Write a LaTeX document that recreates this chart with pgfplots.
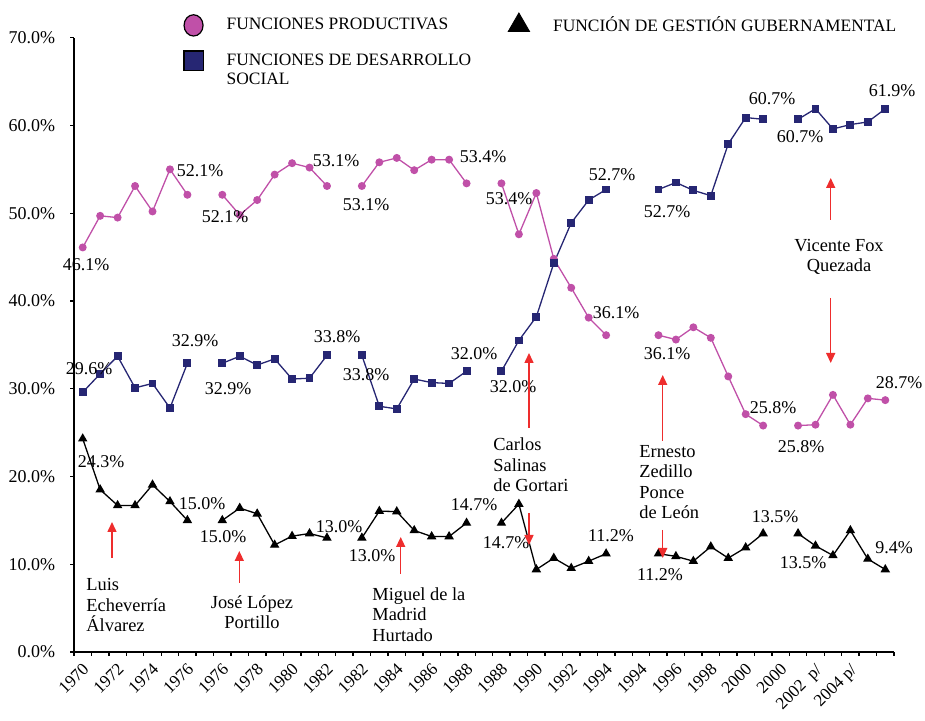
\documentclass[border=0pt]{standalone}
\usepackage{fontspec}
\setmainfont{Liberation Serif}
\usepackage{pgfplots}
\usepackage{pgfplotstable}
\pgfplotsset{compat=1.18}
\usetikzlibrary{arrows.meta}
\definecolor{pinkc}{RGB}{192,80,168}
\definecolor{navyc}{RGB}{38,38,115}
\definecolor{arrowc}{RGB}{238,45,45}

\pgfplotstableread{
i p s g
0 46.1 29.6 24.3
1 49.7 31.7 18.5
2 49.5 33.7 16.7
3 53.1 30.1 16.7
4 50.2 30.6 19.05
5 55.0 27.8 17.15
6 52.1 32.9 15.0
7 nan nan nan
8 52.1 32.9 15.0
9 49.8 33.7 16.4
10 51.5 32.7 15.75
11 54.4 33.4 12.2
12 55.7 31.1 13.2
13 55.2 31.2 13.5
14 53.1 33.8 13.0
15 nan nan nan
16 53.1 33.8 13.0
17 55.8 28.0 16.05
18 56.3 27.7 16.0
19 54.9 31.1 13.85
20 56.1 30.7 13.16
21 56.1 30.6 13.16
22 53.4 32.0 14.7
23 nan nan nan
24 53.4 32.0 14.7
25 47.6 35.5 16.85
26 52.3 38.2 9.4
27 44.8 44.3 10.7
28 41.5 48.9 9.55
29 38.1 51.5 10.35
30 36.1 52.7 11.2
31 nan nan nan
32 nan nan nan
33 36.1 52.7 11.2
34 35.6 53.5 10.9
35 37.0 52.6 10.35
36 35.8 52.0 12.0
37 31.4 57.9 10.7
38 27.1 60.9 11.9
39 25.8 60.7 13.5
40 nan nan nan
41 25.8 60.7 13.5
42 25.9 61.9 12.1
43 29.3 59.6 11.0
44 25.9 60.1 13.85
45 28.9 60.4 10.6
46 28.7 61.9 9.4
}\datatable

\begin{document}
\begin{tikzpicture}
\path[use as bounding box] (0,0) rectangle (462.5pt,360.5pt);
\begin{axis}[
  at={(37pt,34.5pt)}, anchor=south west,
  scale only axis, width=410pt, height=307.15pt,
  xmin=-0.5, xmax=46.5, ymin=0, ymax=70,
  axis x line*=bottom, axis y line*=left,
  axis line style={black, line width=0.8pt},
  unbounded coords=jump,
  tick align=outside,
  major tick length=2pt, minor tick length=2pt,
  tick style={black, line width=0.7pt},
  xtick={0,2,...,44},
  xticklabels={1970,1972,1974,1976,1976,1978,1980,1982,1982,1984,1986,1988,1988,1990,1992,1994,1994,1996,1998,2000,2000,2002\ \ p/,2004 p/},
  major x tick style={draw=none},
  minor xtick={-0.5,0.5,...,46.5},
  xticklabel style={font=\fontsize{8.6}{10}\selectfont, inner sep=0pt, yshift=-3pt, xshift=-0.5pt, rotate=45, anchor=north east},
  ytick={0,10,...,70},
  yticklabel={\pgfmathprintnumber[fixed,fixed zerofill,precision=1,assume math mode=true]{\tick}\%},
  yticklabel style={font=\fontsize{9}{10}\selectfont, anchor=east, inner sep=0pt, xshift=-7.2pt},
  legend style={draw=none, fill=none, inner sep=0pt, outer sep=0pt,
    at={(axis description cs:0.1341,1.0402)}, anchor=north west,
    font=\fontsize{8.7}{9.5}\selectfont, column sep=11.75pt, row sep=7.5pt,
    nodes={inner sep=0pt}},
  legend columns=2,
  legend cell align=left,
  legend image code/.code={\draw[#1] plot coordinates {(0pt,0pt)};},
  clip=false,
]
\addlegendimage{only marks, mark=*, mark size=4.75pt, mark options={yscale=1.12, fill=pinkc, draw=black, line width=0.6pt}}
\addlegendentry{\makebox[129pt][l]{FUNCIONES PRODUCTIVAS}}
\addlegendimage{only marks, mark=triangle*, mark size=6.2pt, mark options={fill=black, draw=black}}
\addlegendentry{FUNCIÓN DE GESTIÓN GUBERNAMENTAL}
\addlegendimage{only marks, mark=square*, mark size=4.8pt, mark options={fill=navyc, draw=black, line width=0.6pt}}
\addlegendentry{\makebox[129pt][l]{\begin{tabular}[t]{@{}l@{}}FUNCIONES DE DESARROLLO\\SOCIAL\end{tabular}}}

\addplot[pinkc, line width=0.65pt, mark=*, mark size=1.65pt, mark options={fill=pinkc, draw=pinkc}, forget plot] table[x=i,y=p]{\datatable};
\addplot[navyc, line width=0.65pt, mark=square*, mark size=1.65pt, mark options={fill=navyc, draw=navyc}, forget plot] table[x=i,y=s]{\datatable};
\addplot[black, line width=0.65pt, mark=triangle*, mark size=2.1pt, mark options={fill=black, draw=black}, forget plot] table[x=i,y=g]{\datatable};
\end{axis}

\begin{scope}[x=0.5pt, y=-0.5pt, yshift=360.5pt]
\foreach \t/\x/\y in {46.1/86/265, 52.1/200/171, 52.1/225/217, 53.1/336/161, 53.1/366/205, 53.4/483/157, 53.4/509/199, 52.7/612/175, 52.7/667/212, 60.7/772/99, 60.7/800/137, 61.9/892/91,
 29.6/89/369, 32.9/195/341, 32.9/228/389, 33.8/337/337, 33.8/366/375, 32.0/474/354, 32.0/513/387, 36.1/616/313, 36.1/667/354, 25.8/773/408, 25.8/801/447, 28.7/899/383,
 24.3/101/462, 15.0/202/504, 15.0/223/537, 13.0/339/527, 13.0/372/556, 14.7/474/505, 14.7/506/543, 11.2/611/536, 11.2/660/575, 13.5/775/517, 13.5/803/563, 9.4/894/548}
  \node[anchor=center, inner sep=0pt, font=\fontsize{9}{10}\selectfont] at (\x,\y) {\t\%};

\tikzset{pres/.style={arrowc, line width=0.75pt, -{Triangle[length=5pt,width=4.5pt]}}}
\draw[pres] (112,558) -- (112,522);
\draw[pres] (239.3,583) -- (239.3,551);
\draw[pres] (400.7,574) -- (400.7,537);
\draw[pres] (529,428) -- (529,353);
\draw[pres] (529,513) -- (529,545);
\draw[pres] (662.7,441) -- (662.7,375);
\draw[pres] (662.7,530) -- (662.7,558);
\draw[pres] (830.7,220) -- (830.7,178);
\draw[pres] (830.7,298) -- (830.7,363);

\tikzset{ptxt/.style={inner sep=0pt, font=\fontsize{9.2}{10.25}\selectfont}}
\node[ptxt, anchor=north west, align=left] at (86,578) {Luis\\Echeverría\\Álvarez};
\node[ptxt, anchor=north, align=center] at (252,595) {José López\\Portillo};
\node[ptxt, anchor=north west, align=left] at (372,587) {Miguel de la\\Madrid\\Hurtado};
\node[ptxt, anchor=north west, align=left] at (493,437.5) {Carlos\\Salinas\\de Gortari};
\node[ptxt, anchor=north west, align=left] at (639,445) {Ernesto\\Zedillo\\Ponce\\de León};
\node[ptxt, anchor=north, align=center] at (839,238.5) {Vicente Fox\\Quezada};
\end{scope}
\end{tikzpicture}
\end{document}
